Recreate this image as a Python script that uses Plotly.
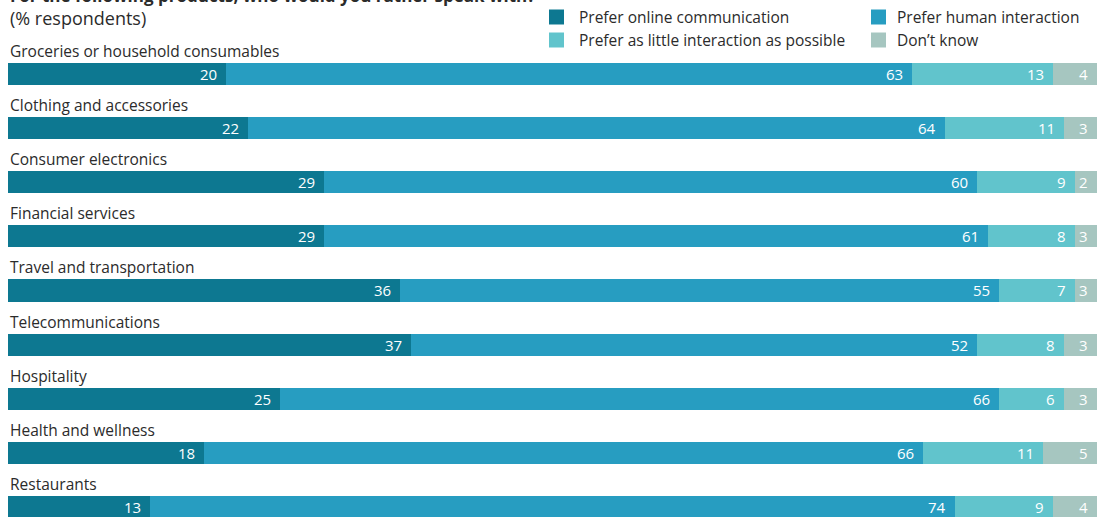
import plotly.graph_objects as go

categories = [
    "Groceries or household consumables",
    "Clothing and accessories",
    "Consumer electronics",
    "Financial services",
    "Travel and transportation",
    "Telecommunications",
    "Hospitality",
    "Health and wellness",
    "Restaurants",
]
online = [20, 22, 29, 29, 36, 37, 25, 18, 13]
human = [63, 64, 60, 61, 55, 52, 66, 66, 74]
little = [13, 11, 9, 8, 7, 8, 6, 11, 9]
dont_know = [4, 3, 2, 3, 3, 3, 3, 5, 4]

series_names = [
    "Prefer online communication",
    "Prefer human interaction",
    "Prefer as little interaction as possible",
    "Don\u2019t know",
]
series_values = [online, human, little, dont_know]
colors = ["#0d7891", "#279dc1", "#61c4cc", "#a6c6c0"]

FONT = "Open Sans"
TEXT = "#2b2b2b"
W, H = 1099, 517
L, R = 8, 2
PW = W - L - R
rows = list(range(len(categories)))

fig = go.Figure()
for name, vals, col in zip(series_names, series_values, colors):
    fig.add_trace(go.Bar(
        y=rows, x=vals, name=name, orientation="h",
        marker=dict(color=col, line=dict(width=0)),
        width=0.41, showlegend=False, hoverinfo="x+name",
    ))

annotations = []
# value labels, right-aligned at the end of each segment (rounded totals may exceed 100)
for i in rows:
    cum = 0
    for vals in series_values:
        cum += vals[i]
        annotations.append(dict(
            x=min(cum, 100), y=i, xref="x", yref="y", text=str(vals[i]),
            showarrow=False, xanchor="right", yanchor="middle", xshift=-7,
            font=dict(family=FONT, size=15, color="white"),
        ))
    # category label above each bar
    annotations.append(dict(
        x=0, y=i, xref="paper", yref="y", text=categories[i],
        showarrow=False, xanchor="left", yanchor="middle", yshift=23,
        font=dict(family=FONT, size=15.5, color=TEXT),
    ))

# headings
annotations.append(dict(
    x=0, y=1, xref="paper", yref="paper", yshift=-9,
    text="<b>For the following products, who would you rather speak with?</b>",
    showarrow=False, xanchor="left", yanchor="bottom",
    font=dict(family=FONT, size=17, color=TEXT),
))
annotations.append(dict(
    x=0, y=1, xref="paper", yref="paper", yshift=-18,
    text="(% respondents)", showarrow=False, xanchor="left", yanchor="middle",
    font=dict(family=FONT, size=18, color=TEXT),
))

# legend drawn as swatches and labels: (swatch left, text left, centre y) in pixels
shapes = []
legend_pos = [(549, 577, 17), (871, 895, 17), (549, 577, 40), (871, 895, 40)]
for (sx, tx, cy), name, col in zip(legend_pos, series_names, colors):
    shapes.append(dict(
        type="rect", xref="paper", yref="paper",
        x0=(sx - L) / PW, x1=(sx + 15 - L) / PW,
        y0=1 - (cy + 7.5) / H, y1=1 - (cy - 7.5) / H,
        fillcolor=col, line=dict(width=0),
    ))
    annotations.append(dict(
        x=(tx - L) / PW, y=1 - cy / H, xref="paper", yref="paper",
        text=name, showarrow=False, xanchor="left", yanchor="middle",
        font=dict(family=FONT, size=15.5, color=TEXT),
    ))

fig.update_layout(
    width=W, height=H,
    margin=dict(l=L, r=R, t=0, b=0),
    paper_bgcolor="white", plot_bgcolor="white",
    barmode="stack", bargap=0,
    xaxis=dict(range=[0, 100], visible=False, fixedrange=True),
    yaxis=dict(range=[8.185, -1.367], visible=False, fixedrange=True),
    annotations=annotations, shapes=shapes,
    showlegend=False,
)

fig.write_html("out.html")
